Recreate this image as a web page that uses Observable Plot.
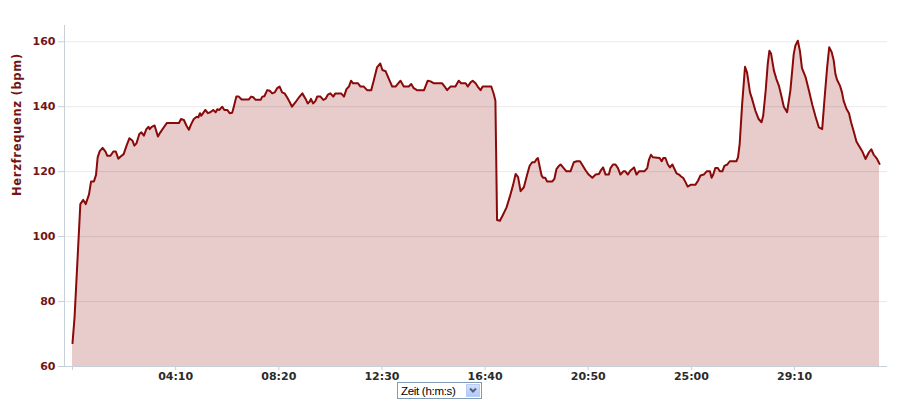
<!DOCTYPE html>
<html>
<head>
<meta charset="utf-8">
<script src="https://cdn.jsdelivr.net/npm/d3@7"></script>
<script src="https://cdn.jsdelivr.net/npm/@observablehq/plot@0.6"></script>
<style>
  body { margin: 0; background: #fff; }
  #wrap { position: relative; width: 899px; height: 409px; overflow: hidden; }
  #sel {
    position: absolute; left: 397px; top: 382px; width: 85px; height: 17px;
    border: 1px solid #7f9db9; background: #fff; box-sizing: border-box;
    font-family: "Liberation Sans", Arial, sans-serif; font-size: 11.5px; color: #000;
  }
  #sel .txt { position: absolute; left: 3px; top: 1px; line-height: 14px; letter-spacing: -0.3px; }
  #sel .btn {
    position: absolute; right: 1px; top: 1px; width: 14px; height: 13px;
    background: linear-gradient(#d3e0fb, #b3c8f3); border: 1px solid #b6cdf6; box-sizing: border-box;
  }
</style>
</head>
<body>
<div id="wrap">
  <div id="chart"></div>
  <div id="sel"><span class="txt">Zeit (h:m:s)</span><span class="btn"><svg width="12" height="11" style="position:absolute;left:0;top:0"><polyline points="3,3.5 6,6.5 9,3.5" fill="none" stroke="#4d6185" stroke-width="2"/></svg></span></div>
</div>
<script>
// elapsed time in seconds
const timeSec = [
  0,5,19,26,32,40,45,52,57,61,66,73,80,84,92,99,105,111,116,124,
  131,138,145,150,155,162,167,173,179,184,187,192,199,207,213,221,229,238,258,263,
  270,276,282,288,294,301,305,309,312,317,322,328,334,341,347,351,356,363,368,375,
  381,387,391,397,403,410,427,433,438,444,456,460,465,472,478,484,490,496,502,
  508,514,520,527,532,540,549,557,565,570,575,578,583,589,593,601,608,613,619,625,
  632,637,651,658,664,670,675,680,692,698,706,714,724,730,738,746,751,759,767,775,
  783,795,803,815,821,827,835,852,861,868,876,896,902,908,916,928,936,942,953,958,
  965,970,977,982,989,994,1015,1021,1025,1029,
  1036,1044,1052,1060,1068,1074,1080,1086,1094,1102,1108,1114,1120,1125,1128,1133,1137,1141,1146,1150,
  1163,1168,1173,1179,1183,1189,1197,1207,1215,1222,1230,1235,1243,1251,1260,1268,1276,1281,1286,1292,
  1300,1304,1310,1316,1322,1328,1335,1340,1346,1352,1361,1367,1373,1386,1393,1397,1402,1407,1423,1428,
  1432,1437,1443,1448,1454,1459,1464,1470,1475,
  1480,1486,1491,1499,1510,1516,1522,1530,1537,1545,1549,1553,1558,1564,1569,1575,1580,1587,1593,1609,
  1613,1617,1623,1630,1635,1642,1647,1655,1663,1670,1674,1680,1685,1689,1693,1700,1706,1712,1718,1724,
  1732,1740,1748,1752,1758,1763,1768,1777,1785,1793,1801,1809,1817,1823,1829,1834,1840,1845,1849,1853,
  1860,1865,1869,1876,1882,1887,1894,1900,1906,1914,1922,1930,1936,1942,1950,1956
];
// heart rate in bpm
const heartRate = [
  67.2,75.2,110,111.3,110,113,117,117,119,124.4,126.3,127.3,126.2,124.9,124.9,126.2,126.2,124,124.6,125.4,
  128,130.3,129.6,128,128.7,131.6,132.1,131.1,133.1,133.8,133.1,133.8,134.2,130.8,132.1,133.6,135,135,135,136.2,
  135.9,134.2,132.9,134.7,136.2,136.9,136.7,138,137.2,138.1,139,138,138.3,139,138.3,139.2,139,140,139,139,
  138,138.1,140,143.1,143.1,142.2,142.2,143.1,142.9,142.1,142.1,143.1,143.2,145.1,144.9,144.1,144.4,145.7,146.2,
  144.4,144.1,142.9,141.3,140,141.3,142.9,144.1,142.4,141,141.6,142.4,141,141.8,143.1,143.1,142.1,142.4,143.7,144.1,
  143.1,144.1,144.1,143.1,145.4,146.2,148,147.2,147.2,146.2,146.2,145.1,145.1,148,152.1,153.3,151.3,150.9,148.5,146.2,
  146.2,148,146.2,146.2,147,145.7,145.1,145.1,148,147.8,147.2,147.2,146.2,145.1,146.2,146.2,148,147.2,147.2,146.2,
  147.5,148,147.2,146.2,145.1,146.2,146.2,143.9,141.8,105.1,
  104.9,106.9,109,112.3,116,119.3,118.3,114,115.2,119.1,121.8,122.9,122.9,123.9,124.2,121.1,118.8,118.1,118.1,117,
  117,117.8,120.8,121.8,122.2,121.3,120.1,120.1,122.9,123.2,123.2,122.2,120.5,119.1,118.1,119.1,119.3,120.5,121.3,119.1,
  119.1,121.1,122.2,122.2,121.1,119.1,120.1,120.1,119.1,120.3,121.3,119.1,120.1,120.1,121.1,123.6,125.2,124.4,124.2,123.2,
  124.2,124.2,122.2,121.3,122.2,120.8,119.5,119.1,118.5,
  118.1,116.7,115.4,116,116,117.2,118.8,119.1,120.1,120.1,118.1,119.1,121.1,121.1,120.1,120.1,121.8,122.2,123.2,123.2,
  124.4,128.5,140.8,152.3,150.5,144.4,142.4,138.8,136.2,135.2,137.2,144.9,153.1,157.2,156.4,151.1,148.5,146.5,143.4,140,
  138.3,145.1,156.2,158.8,160.3,157.2,151.9,149,144.9,140.6,136.9,133.6,133.1,142.9,152.1,158.3,156.8,154.2,150.1,148.3,
  146.5,144.4,141.8,139.3,138,135.2,132.1,129.3,128,126.3,123.9,125.9,126.9,125.2,123.9,122.4
];
const xTicks = [0, 250, 500, 750, 1000, 1250, 1500, 1750];
const xTickLabels = ["", "04:10", "08:20", "12:30", "16:40", "20:50", "25:00", "29:10"];
const yTicks = [60, 80, 100, 120, 140, 160];
const yGrid = [80, 100, 120, 140, 160];
const yLabel = "Herzfrequenz (bpm)";

const data = timeSec.map((t, i) => ({t, bpm: heartRate[i]}));
const xMin = -19.4, xMax = 1975.3, yMin = 60, yMax = 165;

const chart = Plot.plot({
  width: 899,
  height: 400,
  marginTop: 25,
  marginBottom: 34,
  marginLeft: 64,
  marginRight: 12,
  style: {fontFamily: "'DejaVu Sans', Verdana, sans-serif", fontSize: "11px", fontWeight: "bold", background: "transparent"},
  x: {domain: [xMin, xMax]},
  y: {domain: [yMin, yMax]},
  marks: [
    Plot.areaY(data, {x: "t", y1: yMin, y2: "bpm", fill: "#e8cbcb", curve: "linear"}),
    Plot.ruleY(yGrid, {stroke: "#000", strokeOpacity: 0.085}),
    Plot.lineY(data, {x: "t", y: "bpm", stroke: "#8a0a0a", strokeWidth: 2, strokeLinejoin: "round"}),
    Plot.ruleY([yMin], {stroke: "#c6d0d8"}),
    Plot.ruleX([xMin], {stroke: "#c6d0d8"}),
    Plot.axisY({ticks: yTicks, tickSize: 6, tickPadding: 3, stroke: "#c6d0d8", fill: "#741414", label: null, fontWeight: "bold"}),
    Plot.axisX({ticks: xTicks, tickFormat: d => xTickLabels[xTicks.indexOf(d)], tickSize: 4, tickPadding: 2, stroke: "#c6d0d8", fill: "#2b2b2b", label: null, fontWeight: "bold"}),
    Plot.text([yLabel], {frameAnchor: "left", dx: -47, rotate: -90, fill: "#741414", fontWeight: "bold", fontSize: 11.5})
  ]
});
d3.select(chart).selectAll('g[aria-label="text"] text').style("letter-spacing", "0.7px");
document.getElementById("chart").appendChild(chart);
</script>
</body>
</html>
